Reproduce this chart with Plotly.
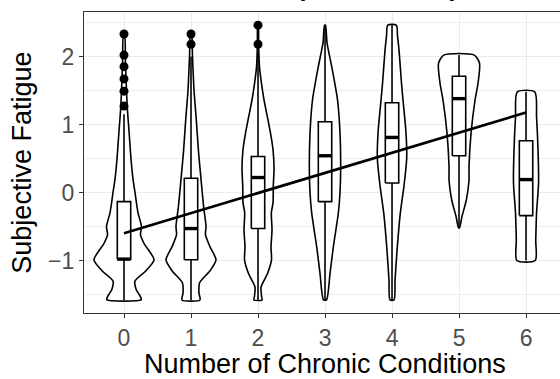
import plotly.graph_objects as go

# Number of chronic conditions (x categories)
conditions = [0, 1, 2, 3, 4, 5, 6]

# Violin outlines: fatigue levels and half-widths of the density (x units)
levels_0 = [2.33, 1.9, 1.5, 1.2, 0.9, 0.5, 0.2, 0.0, -0.3, -0.5, -0.62, -0.75, -0.99, -1.15, -1.3, -1.42, -1.55, -1.58]
widths_0 = [0.007, 0.022, 0.037, 0.052, 0.075, 0.104, 0.134, 0.164, 0.209, 0.261, 0.246, 0.299, 0.448, 0.328, 0.164, 0.179, 0.254, 0.254]

levels_1 = [2.33, 2.0, 1.5, 1.07, 0.6, 0.2, -0.2, -0.5, -0.62, -0.8, -0.99, -1.15, -1.33, -1.48, -1.58]
widths_1 = [0.007, 0.022, 0.045, 0.079, 0.112, 0.149, 0.187, 0.224, 0.216, 0.284, 0.373, 0.284, 0.127, 0.119, 0.134]

levels_2 = [2.46, 2.18, 1.85, 1.6, 1.36, 1.1, 0.87, 0.63, 0.35, 0.1, -0.15, -0.3, -0.55, -0.8, -0.99, -1.19, -1.39, -1.52, -1.58]
widths_2 = [0.004, 0.009, 0.022, 0.052, 0.090, 0.142, 0.187, 0.224, 0.239, 0.228, 0.224, 0.199, 0.209, 0.194, 0.201, 0.142, 0.045, 0.052, 0.060]

levels_3 = [2.46, 2.2, 1.85, 1.36, 0.87, 0.38, 0.0, -0.3, -0.8, -1.19, -1.58]
widths_3 = [0.007, 0.030, 0.100, 0.187, 0.224, 0.234, 0.224, 0.199, 0.124, 0.075, 0.022]

levels_4 = [2.46, 2.3, 2.1, 1.6, 1.36, 0.87, 0.5, 0.1, -0.3, -0.8, -1.29, -1.58]
widths_4 = [0.064, 0.082, 0.104, 0.142, 0.164, 0.209, 0.219, 0.179, 0.124, 0.079, 0.045, 0.030]

levels_5 = [2.02, 1.9, 1.61, 1.36, 0.87, 0.38, 0.18, -0.11, -0.35, -0.52]
widths_5 = [0.228, 0.306, 0.284, 0.239, 0.179, 0.149, 0.149, 0.109, 0.045, 0.007]

levels_6 = [1.48, 1.11, 0.63, 0.14, -0.3, -0.7, -1.0]
widths_6 = [0.130, 0.157, 0.179, 0.187, 0.157, 0.145, 0.137]

# Box-plot statistics per category
q1 = [-0.98, -0.99, -0.53, -0.135, 0.14, 0.54, -0.34]
median = [-0.98, -0.53, 0.22, 0.54, 0.81, 1.38, 0.19]
q3 = [-0.135, 0.21, 0.53, 1.04, 1.32, 1.71, 0.76]
whisker_low = [-1.58, -1.58, -1.58, -1.58, -1.58, -0.52, -1.0]
whisker_high = [1.15, 2.0, 2.05, 2.46, 2.46, 2.02, 1.48]

# Outlying observations
outlier_x = [0, 0, 0, 0, 0, 0, 1, 1, 2, 2]
outlier_y = [1.27, 1.49, 1.67, 1.85, 2.02, 2.33, 2.18, 2.33, 2.18, 2.46]

# Linear fit of fatigue on number of conditions
fit_intercept = -0.60
fit_slope = 0.296
fit_range = [0, 6]

levels = [levels_0, levels_1, levels_2, levels_3, levels_4, levels_5, levels_6]
widths = [widths_0, widths_1, widths_2, widths_3, widths_4, widths_5, widths_6]

BOX_HALF = 0.1
FONT = "Liberation Sans, Arial, Helvetica, sans-serif"

fig = go.Figure()

# violins
for c, ys, ws in zip(conditions, levels, widths):
    xs = [c + w for w in ws] + [c - w for w in reversed(ws)] + [c + ws[0]]
    yy = ys + ys[::-1] + [ys[0]]
    fig.add_trace(go.Scatter(
        x=xs, y=yy, mode="lines", fill="toself", fillcolor="white",
        line=dict(color="black", width=1.6, shape="spline", smoothing=0.7),
        hoverinfo="skip"))

# whiskers
wx, wy = [], []
for c, lo, a, b, hi in zip(conditions, whisker_low, q1, q3, whisker_high):
    wx += [c, c, None, c, c, None]
    wy += [lo, a, None, b, hi, None]
fig.add_trace(go.Scatter(x=wx, y=wy, mode="lines",
                         line=dict(color="black", width=1.6), hoverinfo="skip"))

# boxes
for c, a, b in zip(conditions, q1, q3):
    fig.add_trace(go.Scatter(
        x=[c - BOX_HALF, c + BOX_HALF, c + BOX_HALF, c - BOX_HALF, c - BOX_HALF],
        y=[a, a, b, b, a], mode="lines", fill="toself", fillcolor="white",
        line=dict(color="black", width=1.6), hoverinfo="skip"))

# medians
mx, my = [], []
for c, m in zip(conditions, median):
    mx += [c - BOX_HALF, c + BOX_HALF, None]
    my += [m, m, None]
fig.add_trace(go.Scatter(x=mx, y=my, mode="lines",
                         line=dict(color="black", width=3.4), hoverinfo="skip"))

# outliers
fig.add_trace(go.Scatter(x=outlier_x, y=outlier_y, mode="markers",
                         marker=dict(color="black", size=9), hoverinfo="skip"))

# regression line
fig.add_trace(go.Scatter(
    x=fit_range, y=[fit_intercept + fit_slope * v for v in fit_range],
    mode="lines", line=dict(color="black", width=2.7), hoverinfo="skip"))

fig.update_layout(
    width=560, height=379,
    margin=dict(l=84, r=0, t=12, b=66),
    paper_bgcolor="white", plot_bgcolor="white",
    showlegend=False,
    font=dict(family=FONT),
    xaxis=dict(
        range=[-0.597, 6.507], tickvals=conditions,
        ticktext=[str(c) for c in conditions],
        showgrid=True, gridcolor="#EBEBEB", gridwidth=1.3,
        zeroline=False, showline=True, linecolor="#333333", linewidth=1.3,
        mirror=True, ticks="outside", ticklen=4, tickwidth=1.2,
        tickcolor="#333333", tickfont=dict(size=23, color="#4D4D4D"),
    ),
    yaxis=dict(
        range=[-1.772, 2.654], tickvals=[-1, 0, 1, 2],
        showgrid=True, gridcolor="#EBEBEB", gridwidth=1.3,
        minor=dict(tickvals=[-1.5, -0.5, 0.5, 1.5, 2.5], showgrid=True,
                   gridcolor="#EDEDED", gridwidth=0.8, ticks=""),
        zeroline=False, showline=True, linecolor="#333333", linewidth=1.3,
        ticks="outside", ticklen=4, tickwidth=1.2,
        tickcolor="#333333", tickfont=dict(size=23, color="#4D4D4D"),
    ),
    annotations=[
        dict(text="Number of Chronic Conditions", xref="paper", yref="paper",
             x=0.506, y=-0.168, xanchor="center", yanchor="middle",
             showarrow=False, font=dict(size=27, color="black")),
        dict(text="Subjective Fatigue", xref="paper", yref="paper",
             x=-0.132, y=0.5, xanchor="center", yanchor="middle",
             textangle=-90, showarrow=False, font=dict(size=27, color="black")),
        dict(text="<b>Chronic Conditions (r=0.30, n=96)</b>", xref="paper", yref="paper",
             x=0.790, y=1.030, xanchor="right", yanchor="bottom",
             showarrow=False, font=dict(size=25, color="black")),
    ],
)

fig.write_html("out.html")
